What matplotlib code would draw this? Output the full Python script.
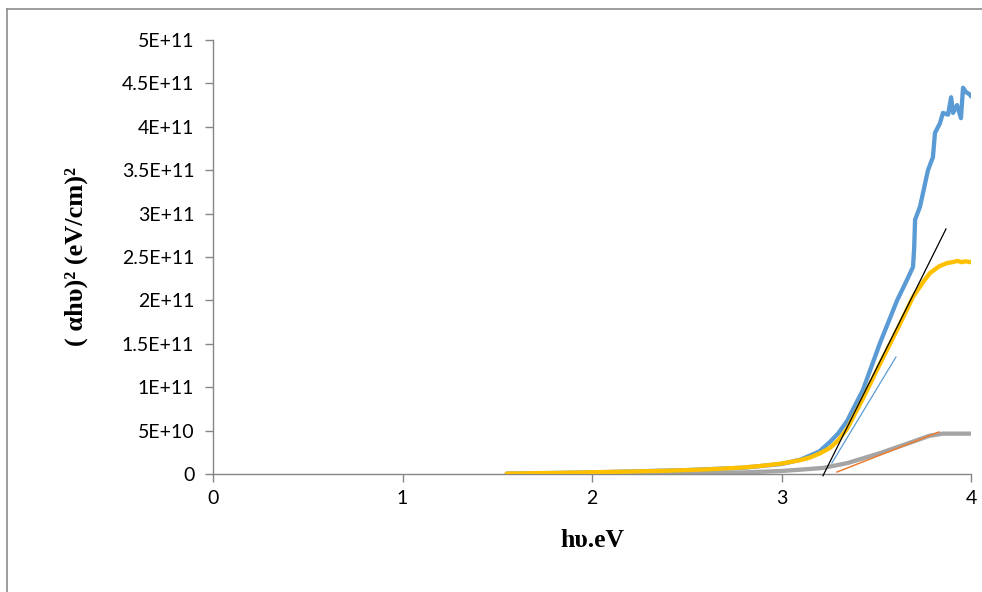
import numpy as np
import matplotlib
matplotlib.use("Agg")
import matplotlib.pyplot as plt
from matplotlib.lines import Line2D

# ===== DATA (values in units of 1E+11) =====
SCALE = 1e11

yellow_x = [1.55, 1.8, 2.0, 2.2, 2.4, 2.6, 2.8, 2.9, 3.0, 3.1, 3.15, 3.2, 3.256, 3.3,
            3.346, 3.43, 3.52, 3.61, 3.694, 3.75, 3.784, 3.83, 3.873, 3.9, 3.93,
            3.95, 3.97, 4.0]
yellow_y = [0.005, 0.012, 0.02, 0.028, 0.038, 0.052, 0.075, 0.095, 0.12, 0.16, 0.19,
            0.235, 0.3, 0.39, 0.52, 0.87, 1.27, 1.66, 2.04, 2.22, 2.316, 2.39, 2.43,
            2.44, 2.455, 2.44, 2.45, 2.44]

blue_x = [1.55, 2.0, 2.5, 2.8, 3.0, 3.1, 3.2, 3.256, 3.3, 3.346, 3.43, 3.52, 3.61,
          3.662, 3.694, 3.70, 3.705, 3.731, 3.747, 3.773, 3.799, 3.81, 3.836, 3.852,
          3.879, 3.895, 3.905, 3.926, 3.947, 3.958, 3.974, 3.995, 4.0]
blue_y = [0.004, 0.018, 0.045, 0.072, 0.115, 0.165, 0.26, 0.37, 0.47, 0.61, 0.97,
          1.51, 2.0, 2.235, 2.385, 2.6, 2.93, 3.08, 3.24, 3.5, 3.65, 3.93, 4.04, 4.16,
          4.14, 4.34, 4.16, 4.25, 4.10, 4.45, 4.40, 4.37, 4.35]

gray_x = [1.55, 2.0, 2.5, 2.8, 3.0, 3.1, 3.22, 3.35, 3.52, 3.69, 3.78, 3.85, 3.95, 4.0]
gray_y = [0.0, 0.003, 0.008, 0.018, 0.035, 0.05, 0.07, 0.127, 0.24, 0.37, 0.44,
          0.465, 0.465, 0.465]

fit_black_x = [3.219, 3.868]
fit_black_y = [-0.02, 2.823]
fit_blue_x = [3.266, 3.604]
fit_blue_y = [0.127, 1.348]
fit_orange_x = [3.293, 3.831]
fit_orange_y = [0.023, 0.484]

y_ticks = [0, 0.5, 1, 1.5, 2, 2.5, 3, 3.5, 4, 4.5, 5]
y_tick_labels = ["0", "5E+10", "1E+11", "1.5E+11", "2E+11", "2.5E+11", "3E+11",
                 "3.5E+11", "4E+11", "4.5E+11", "5E+11"]
x_ticks = [0, 1, 2, 3, 4]

# ===== PLOT =====
fig = plt.figure(figsize=(9.82, 5.92), dpi=100)
ax = fig.add_axes([213 / 982, 1 - 474 / 592, (971 - 213) / 982, (474 - 40) / 592])

ax.plot(gray_x, np.array(gray_y) * SCALE, color="#A5A5A5", lw=3.1,
        solid_capstyle="round", zorder=2)
ax.plot(blue_x, np.array(blue_y) * SCALE, color="#5B9BD5", lw=3.1,
        solid_capstyle="round", zorder=3)
ax.plot(yellow_x, np.array(yellow_y) * SCALE, color="#FFC000", lw=3.1,
        solid_capstyle="round", zorder=4)
ax.plot(fit_orange_x, np.array(fit_orange_y) * SCALE, color="#ED7D31", lw=1.1, zorder=5)
ax.plot(fit_blue_x, np.array(fit_blue_y) * SCALE, color="#5B9BD5", lw=0.9, zorder=5)
ax.plot(fit_black_x, np.array(fit_black_y) * SCALE, color="black", lw=0.9, zorder=6,
        clip_on=False)

ax.set_xlim(0, 4)
ax.set_ylim(0, 5 * SCALE)
ax.set_xticks(x_ticks)
ax.set_xticklabels([str(t) for t in x_ticks])
ax.set_yticks(np.array(y_ticks) * SCALE)
ax.set_yticklabels(y_tick_labels)

for s in ["top", "right"]:
    ax.spines[s].set_visible(False)
for s in ["left", "bottom"]:
    ax.spines[s].set_color("#868686")
    ax.spines[s].set_linewidth(1.0)
ax.tick_params(axis="both", colors="#868686", length=5.5, width=1.0,
               labelcolor="black", labelsize=14)
ax.tick_params(axis="y", pad=8)
ax.tick_params(axis="x", pad=6)
for lab in ax.get_xticklabels() + ax.get_yticklabels():
    lab.set_family(["Lato", "DejaVu Sans"])

ax.set_xlabel("h\u03c5.eV", family=["Liberation Serif", "DejaVu Serif"],
              fontweight="bold", fontsize=18.5, labelpad=16)
ax.set_ylabel("( \u03b1h\u03c5)\u00b2 (eV/cm)\u00b2",
              family=["Liberation Serif", "DejaVu Serif"],
              fontweight="bold", fontsize=19, labelpad=24)

# chart area border (Excel style)
fig.add_artist(Line2D([7 / 982, 7 / 982], [0, 1 - 9 / 592], color="#8C8C8C", lw=1.2))
fig.add_artist(Line2D([7 / 982, 1], [1 - 9 / 592, 1 - 9 / 592], color="#8C8C8C", lw=1.2))

fig.savefig("out.png", dpi=100)
